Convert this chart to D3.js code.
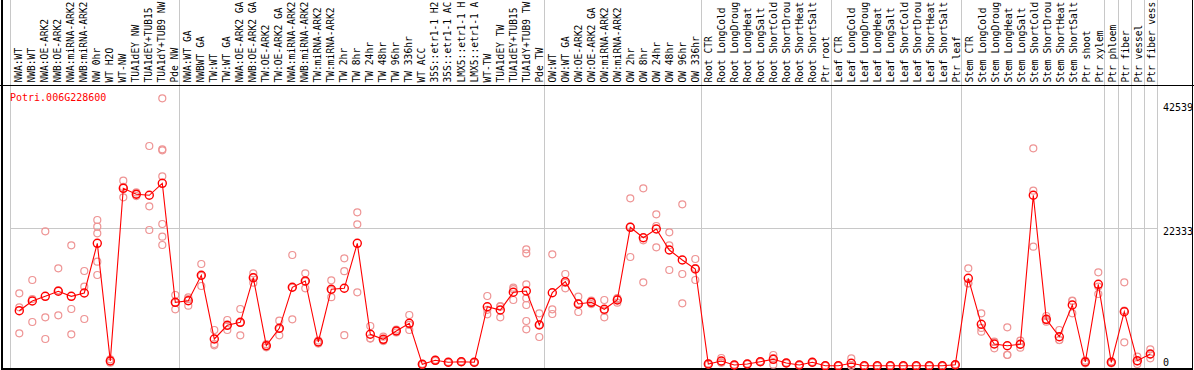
<!DOCTYPE html>
<html><head><meta charset="utf-8">
<script src="https://cdn.jsdelivr.net/npm/d3@7"></script>
<style>
html,body{margin:0;padding:0;background:#fff;}
svg{display:block;}
text{font-family:"DejaVu Sans Mono",monospace;}
</style></head>
<body>
<svg id="chart" width="1194" height="370"></svg>
<script>
const geneName = "Potri.006G228600";
const labels = [
"NWA:WT","NWB:WT","NWA:OE-ARK2","NWB:OE-ARK2","NWA:miRNA-ARK2","NWB:miRNA-ARK2","NW 0hr","WT H2O","WT-NW","TUA1dEY NW","TUA1dEY+TUB15 NW","TUA1dY+TUB9 NW","Pde NW",
"NWA:WT GA","NWBWT GA","TW:WT","TW:WT GA","NWA:OE-ARK2 GA","NWB:OE-ARK2 GA","TW:OE-ARK2","TW:OE-ARK2 GA","NWA:miRNA-ARK2 GA","NWB:miRNA-ARK2 GA","TW:miRNA-ARK2","TW:miRNA-ARK2 GA",
"TW 2hr","TW 8hr","TW 24hr","TW 48hr","TW 96hr","TW 336hr","WT ACC","35S::etr1-1 H2O","35S::etr1-1 ACC","LMX5::etr1-1 H2O","LMX5::etr1-1 ACC","WT-TW","TUA1dEY TW","TUA1dEY+TUB15 TW","TUA1dY+TUB9 TW","Pde TW",
"OW:WT","OW:WT GA","OW:OE-ARK2","OW:OE-ARK2 GA","OW:miRNA-ARK2","OW:miRNA-ARK2 GA","OW 2hr","OW 8hr","OW 24hr","OW 48hr","OW 96hr","OW 336hr",
"Root CTR","Root LongCold","Root LongDrought","Root LongHeat","Root LongSalt","Root ShortCold","Root ShortDrought","Root ShortHeat","Root ShortSalt","Ptr root",
"Leaf CTR","Leaf LongCold","Leaf LongDrought","Leaf LongHeat","Leaf LongSalt","Leaf ShortCold","Leaf ShortDrought","Leaf ShortHeat","Leaf ShortSalt","Ptr leaf",
"Stem CTR","Stem LongCold","Stem LongDrought","Stem LongHeat","Stem LongSalt","Stem ShortCold","Stem ShortDrought","Stem ShortHeat","Stem ShortSalt","Ptr shoot","Ptr xylem",
"Ptr phloem","Ptr fiber","Ptr vessel","Ptr fiber vessel"
];
const labelMaxChars = 14;
const means = [
8930,10500,11262,12073,11262,11797,19851,778,28764,27792,27630,29574,10290,
10549,14666,4343,6563,7049,14277,3257,6077,12721,13742,3857,12413,
12559,19851,5105,4294,5639,6887,243,891,567,664,567,9577,9042,11911,12121,6612,
11846,13628,10015,10290,9156,10663,22444,20759,22168,18765,17145,15686,
292,778,130,292,664,1053,454,130,567,16,
16,405,0,0,16,0,0,0,0,178,
14179,6725,3533,3257,3484,27630,7535,4716,9853,616,13207,
567,8767,826,1912
];
const replicates = [
[11749,9480,5267],[13904,10825,7098],[21796,7859,4343],[15800,8184,12235],[19527,9204,5105],[15362,12818,7584],
[23627,22541,21472,16869,14714],[500,780,1050],[29996,27305,28991],[27500,27800,28100],[35619,25847,22006],
[43349,35084,34922,30709,22979,20921,19576],[11473,9156,10241],
[11100,9739,10808],[16497,12932,14569],[5801,3533,3322],[7422,5801,6466],[9204,4943,7000],[14990,13466,14375],
[3000,3250,3500],[7309,4943,5979],[17955,7535,12673],[14990,12559,13677],[3600,3850,4100],[13855,11117,12267],
[17420,15330,4959],[24875,22930,11911],[6450,4456,4409],[4716,4000,4166],[5400,5650,5870],[8232,5801,6628],
[150,250,330],[800,900,970],[500,570,630],[600,660,730],[500,570,630],
[11311,8346,9074],[9691,7859,9576],[12656,10663,12414],[18879,18231,13207,10938,9853,7260,5915],[8508,4667,6661],
[18069,9156,8394],[14876,12559,13449],[11198,8718,10129],[10000,10290,10580],[10663,7859,8946],[10225,10800,10964],
[27143,17631,22558],[28764,20337,13531],[24551,22655,19203],[21634,19527,15524],[26171,14876,10128],[17307,13904,15847],
[200,300,380],[1264,500,570],[80,130,180],[250,290,340],[600,660,730],[1750,178,1231],[400,450,510],[80,130,180],[500,570,630],[0,20,30],
[0,20,30],[1215,0,0],[0,0,0],[0,0,0],[0,20,30],[0,0,0],[0,0,0],[0,0,0],[0,0,0],[100,180,250],
[15800,13369,13368],[8508,5526,6141],[3905,2836,3858],[6239,1750,1782],[4068,2933,3451],[35246,28375,19300],
[8070,7146,7389],[5801,4181,4166],[10549,8508,10502],[400,620,830],[15152,11635,12834],
[400,570,730],[13531,3808,8962],[1475,292,711],[2674,1215,1847]
];
const groupBreaks = [0,13,41,53,63,73,84,85,86,87,88];
const yTicks = [0,22333,42539];

const svg = d3.select("#chart");
const n = labels.length;
const idx = d3.range(n);
const x = d3.scalePoint().domain(idx).range([19.3, 1150.3]);
const xb = d3.scaleBand().domain(idx).range([10, 1156.6]).paddingInner(0).paddingOuter(0);
const y = d3.scaleLinear().domain([0, 42539]).range([365.8, 103.3]);
const bx = k => k < n ? xb(k) : xb.range()[1];

// grid
const grid = svg.append("g").attr("shape-rendering","crispEdges");
grid.selectAll("line.v").data(groupBreaks).join("line")
  .attr("x1", d => Math.round(bx(d)) + 0.5).attr("x2", d => Math.round(bx(d)) + 0.5)
  .attr("y1", 0).attr("y2", 369).attr("stroke", "#c8c8c8").attr("stroke-width", 1);
grid.append("line").attr("x1", 10).attr("x2", 1156.6)
  .attr("y1", Math.round(y(22333)) + 0.5).attr("y2", Math.round(y(22333)) + 0.5)
  .attr("stroke", "#c8c8c8");

// frame
const frame = svg.append("g").attr("shape-rendering","crispEdges").attr("stroke","#000");
frame.append("line").attr("x1",0).attr("x2",1194).attr("y1",85.5).attr("y2",85.5);
frame.append("line").attr("x1",2).attr("x2",1193).attr("y1",368.5).attr("y2",368.5).attr("stroke-width",2);
frame.append("line").attr("x1",2).attr("x2",2).attr("y1",0).attr("y2",370).attr("stroke-width",2);
frame.append("line").attr("x1",1192.5).attr("x2",1192.5).attr("y1",0).attr("y2",370);

// header labels (shown truncated to 14 characters, as in the reference)
svg.append("g").selectAll("text").data(idx).join("text")
  .attr("transform", i => `translate(${xb(i) + 11.5},82.5) rotate(-90)`)
  .attr("font-size", 9.6).attr("fill", "#000")
  .text(i => labels[i].slice(0, labelMaxChars));

// gene name
svg.append("text").attr("x", 10).attr("y", 100.5).attr("font-size", 10).attr("fill", "#ff0000").text(geneName);

// y tick labels
svg.append("g").selectAll("text").data(yTicks).join("text")
  .attr("x", 1163).attr("y", d => Math.min(y(d) + 7.5, 365.5))
  .attr("font-size", 10).attr("fill", "#000").text(d => d);

// replicates
const repPts = [];
replicates.forEach((arr, i) => arr.forEach(v => repPts.push({i, v})));
svg.append("g").selectAll("circle").data(repPts).join("circle")
  .attr("cx", d => x(d.i)).attr("cy", d => y(d.v)).attr("r", 3.5)
  .attr("fill", "none").attr("stroke", "#ee9494").attr("stroke-width", 1.2);

// mean line
svg.append("path").datum(idx)
  .attr("d", d3.line().x(i => x(i)).y(i => y(means[i])))
  .attr("fill", "none").attr("stroke", "#ff0000").attr("stroke-width", 1.1);

svg.append("g").selectAll("circle").data(idx).join("circle")
  .attr("cx", i => x(i)).attr("cy", i => y(means[i])).attr("r", 4)
  .attr("fill", "none").attr("stroke", "#ff0000").attr("stroke-width", 1.4);
</script>
</body></html>
